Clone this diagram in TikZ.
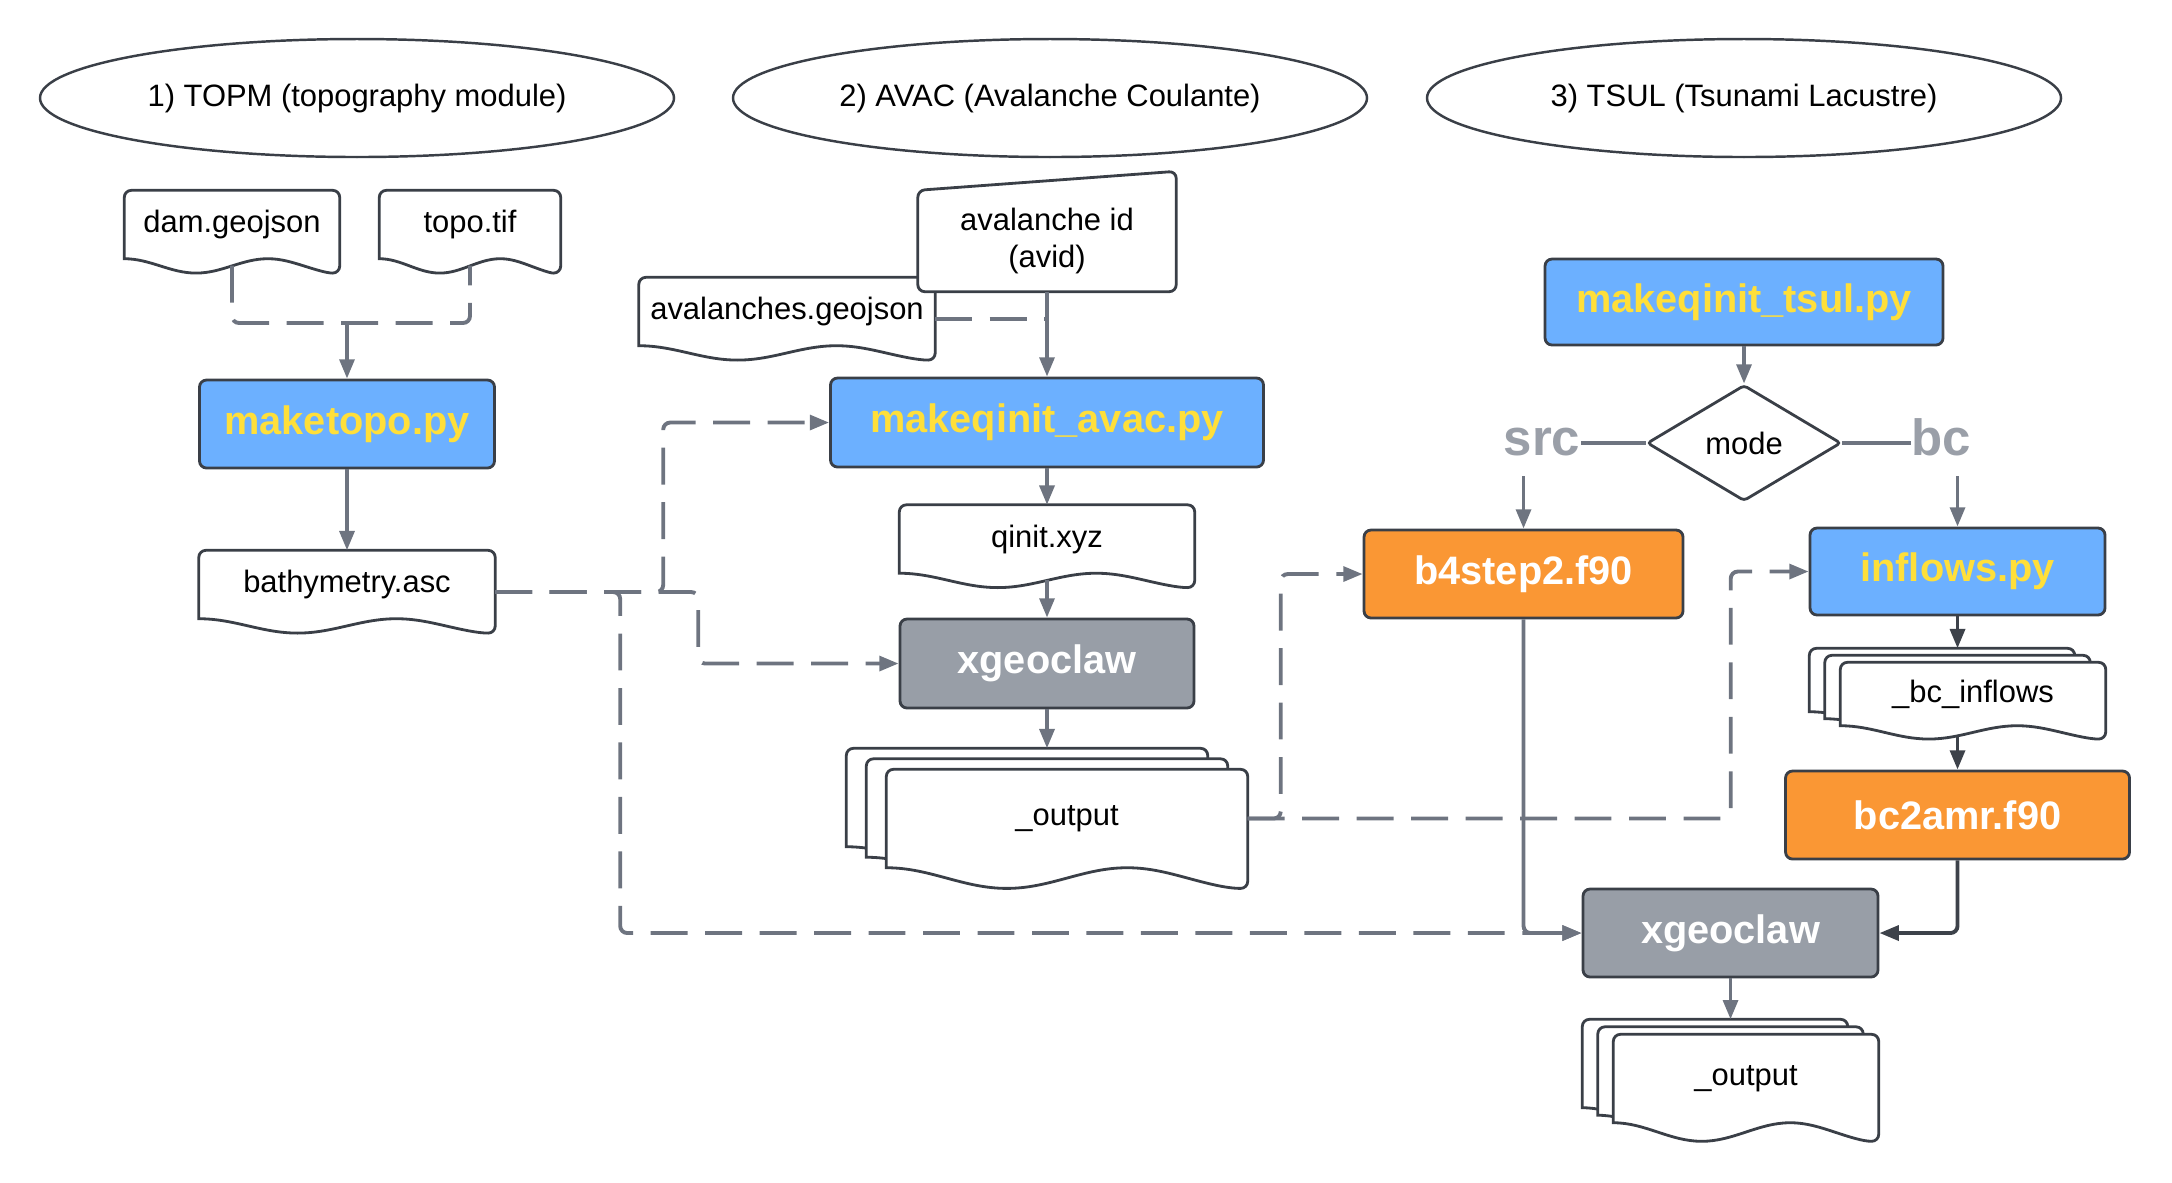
\documentclass[tikz,border=0pt]{standalone}
\usepackage{fontspec}
\setmainfont{Liberation Sans}
\usepackage{tikz}
\usetikzlibrary{arrows.meta,calc,positioning,shapes.geometric}

\definecolor{pyblue}{HTML}{6CB0FF}
\definecolor{pyyellow}{HTML}{FFDF3A}
\definecolor{fortran}{HTML}{FA9734}
\definecolor{exegray}{HTML}{989EA7}
\definecolor{wire}{HTML}{6E7480}
\definecolor{darkwire}{HTML}{3D424A}
\definecolor{edge}{HTML}{3A3F47}
\definecolor{modegray}{HTML}{9A9FA8}

\pgfdeclarelayer{background}
\pgfsetlayers{background,main}

% document frame with wavy bottom, drawn round a named node
\newcommand{\docframe}[1]{%
	\draw[docline] let \p1=(#1.north west), \p2=(#1.south east), \n1={\x2-\x1}, \n2={0.21*(\y1-\y2)} in
		(\x1,\y2) [rounded corners=2pt] -- (\x1,\y1) -- (\x2,\y1) -- (\x2,{\y2-\n2}) [sharp corners]
		cos ({\x2-\n1/6},{\y2-\n2/2}) sin ({\x1+2*\n1/3},\y2)
		cos ({\x1+\n1/2},{\y2-\n2/2}) sin ({\x1+\n1/3},{\y2-\n2})
		cos ({\x1+\n1/6},{\y2-\n2/2}) sin (\x1,\y2) -- cycle;}
% manual input (slanted top)
\newcommand{\inputframe}[1]{%
	\draw[docline, rounded corners=2pt] let \p1=(#1.north west), \p2=(#1.south east) in
		(\x1,\y2) -- (\x1,\y1) -- (\x2,{\y1+0.19cm}) -- (\x2,\y2) -- cycle;}

\tikzset{%
	module/.style   = {draw=edge, ellipse, line width=0.7pt, minimum width=6.34cm, minimum height=1.18cm, font=\fontsize{8.8}{10.5}\selectfont}, % module title
	doc/.style      = {inner sep=0pt, align=center, font=\fontsize{8.8}{10.5}\selectfont}, % file, frame drawn on background
	docline/.style  = {draw=edge, fill=white, line width=0.8pt},
	prog/.style     = {draw=edge, rectangle, rounded corners=2pt, line width=0.8pt, minimum height=0.88cm, font=\bfseries\fontsize{11.3}{13}\selectfont},
	pyscript/.style = {prog, fill=pyblue, text=pyyellow}, % python
	fsource/.style  = {prog, fill=fortran, text=white}, % fortran
	binary/.style   = {prog, fill=exegray, text=white}, % executable
	decision/.style = {draw=edge, diamond, line width=0.8pt, rounded corners=1pt, inner sep=0pt, aspect=1.67, minimum width=1.94cm, minimum height=1.16cm, font=\fontsize{8.8}{10.5}\selectfont},
	branch/.style   = {text=modegray, inner sep=0pt, font=\bfseries\fontsize{14.5}{16}\selectfont},
	flow/.style     = {draw=wire, line width=1.1pt, rounded corners=2pt, -{Triangle[length=5.5pt,width=4.2pt]}},
	optflow/.style  = {flow, dash pattern=on 10.5pt off 5pt},
}

\begin{document}
\begin{tikzpicture}[node distance = 1.5cm]
	\useasboundingbox (0,0) rectangle (21.72,-11.82);

	\node[module] (topm) at (3.57,-0.98) {1) TOPM (topography module)};
	\node[module] (avacm) at (10.50,-0.98) {2) AVAC (Avalanche Coulante)};
	\node[module] (tsulm) at (17.44,-0.98) {3) TSUL (Tsunami Lacustre)};

	% TOPM
	\node[doc, minimum width=2.14cm, minimum height=0.67cm] (dam) at (2.32,-2.245) {dam.geojson};
	\node[doc, minimum width=1.80cm, minimum height=0.67cm] (topo) at (4.70,-2.245) {topo.tif};
	\coordinate (jtopo) at (3.47,-3.23);
	\node[pyscript, minimum width=2.95cm, node distance=1.01cm, below of=jtopo] (maketopo) {maketopo.py};
	\node[doc, minimum width=2.95cm, minimum height=0.67cm, node distance=1.605cm, below of=maketopo] (bathy) {bathymetry.asc};

	% AVAC
	\node[doc, minimum width=2.57cm, minimum height=1.00cm] (avid) at (10.47,-2.41) {avalanche id\\(avid)};
	\node[doc, minimum width=2.95cm, minimum height=0.67cm] (geo) at (7.87,-3.115) {avalanches.geojson};
	\node[pyscript, minimum width=4.33cm, minimum height=0.89cm] (avac) at (10.47,-4.225) {makeqinit\_avac.py};
	\node[doc, minimum width=2.94cm, minimum height=0.67cm, node distance=1.165cm, below of=avac] (qinit) {qinit.xyz};
	\node[binary, minimum width=2.94cm, minimum height=0.89cm, node distance=1.245cm, below of=qinit] (xgcA) {xgeoclaw};
	\node[doc, minimum width=3.60cm, minimum height=0.97cm] (outA) at (10.67,-8.185) {\_output};
	\node[doc, minimum width=3.60cm, minimum height=0.97cm] (outA2) at ($(outA)+(-0.20,0.105)$) {};
	\node[doc, minimum width=3.60cm, minimum height=0.97cm] (outA3) at ($(outA)+(-0.40,0.21)$) {};

	% TSUL
	\node[pyscript, minimum width=3.98cm, minimum height=0.86cm] (tsul) at (17.44,-3.02) {makeqinit\_tsul.py};
	\node[decision, node distance=1.41cm, below of=tsul] (mode) {mode};
	\node[branch, anchor=base] (src) at (15.42,-4.55) {src};
	\node[branch, anchor=base] (bc) at (19.41,-4.55) {bc};
	\node[fsource, minimum width=3.19cm] (b4) at (15.235,-5.74) {b4step2.f90};
	\node[pyscript, minimum width=2.95cm, minimum height=0.87cm] (inflows) at (19.575,-5.715) {inflows.py};
	\node[doc, minimum width=2.64cm, minimum height=0.62cm] (bcin) at (19.73,-6.94) {\_bc\_inflows};
	\node[doc, minimum width=2.64cm, minimum height=0.62cm] (bcin2) at ($(bcin)+(-0.155,0.07)$) {};
	\node[doc, minimum width=2.64cm, minimum height=0.62cm] (bcin3) at ($(bcin)+(-0.31,0.14)$) {};
	\node[fsource, minimum width=3.44cm, node distance=2.435cm, below of=inflows] (bc2amr) {bc2amr.f90};
	\node[binary, minimum width=2.95cm] (xgcB) at (17.305,-9.33) {xgeoclaw};
	\node[doc, minimum width=2.64cm, minimum height=0.87cm] (outB) at (17.46,-10.785) {\_output};
	\node[doc, minimum width=2.64cm, minimum height=0.87cm] (outB2) at ($(outB)+(-0.155,0.075)$) {};
	\node[doc, minimum width=2.64cm, minimum height=0.87cm] (outB3) at ($(outB)+(-0.31,0.15)$) {};

	\begin{pgfonlayer}{background}
		\docframe{dam} \docframe{topo} \docframe{bathy}
		\docframe{geo} \inputframe{avid} \docframe{qinit}
		\docframe{outA3} \docframe{outA2} \docframe{outA}
		\docframe{bcin3} \docframe{bcin2} \docframe{bcin}
		\docframe{outB3} \docframe{outB2} \docframe{outB}
	\end{pgfonlayer}

	% TOPM links
	\draw[optflow,-] ([yshift=-0.7mm]dam.south) |- (jtopo) -| ([yshift=-0.7mm]topo.south);
	\draw[flow] (jtopo) -- (maketopo.north);
	\draw[flow] (maketopo.south) -- (bathy.north);
	\coordinate (bathyout) at ([yshift=-0.75mm]bathy.east);
	\draw[optflow] (bathyout) -- ++(1.68,0) |- (avac.west);
	\draw[optflow] (bathyout) -- ++(2.03,0) |- (xgcA.west);
	\draw[optflow] (bathyout) -- ++(1.25,0) |- (xgcB.west);

	% AVAC links
	\coordinate (geoout) at ([yshift=-0.75mm]geo.east);
	\draw[optflow,-] (geoout) -- (geoout -| avac.north);
	\draw[flow] (avid.south) -- (avac.north);
	\draw[flow] (avac.south) -- (qinit.north);
	\draw[flow] ([yshift=-0.7mm]qinit.south) -- (xgcA.north);
	\draw[flow] (xgcA.south) -- (xgcA.south |- outA3.north);
	\draw[optflow] (outA.east) -- ++(0.33,0) |- (b4.west);
	\draw[optflow] (outA.east) -- ++(4.83,0) |- (inflows.west);

	% TSUL links
	\draw[flow] (tsul.south) -- (mode.north);
	\draw[flow,-] (mode.west) -- (mode.west -| src.east);
	\draw[flow,-] (mode.east) -- (mode.east -| bc.west);
	\draw[flow, shorten <=2mm] (src.south -| b4.north) -- (b4.north);
	\draw[flow, shorten <=2mm] (bc.south -| inflows.north) -- (inflows.north);
	\draw[flow, draw=darkwire] (inflows.south) -- (inflows.south |- bcin3.north);
	\coordinate (bcinout) at (bcin.south -| bc2amr.north);
	\draw[flow, draw=darkwire] ([yshift=-1mm]bcinout) -- (bc2amr.north);
	\draw[flow, draw=darkwire] (bc2amr.south) |- (xgcB.east);
	\draw[flow] (b4.south) |- (xgcB.west);
	\draw[flow] (xgcB.south) -- (xgcB.south |- outB3.north);
\end{tikzpicture}
\end{document}
